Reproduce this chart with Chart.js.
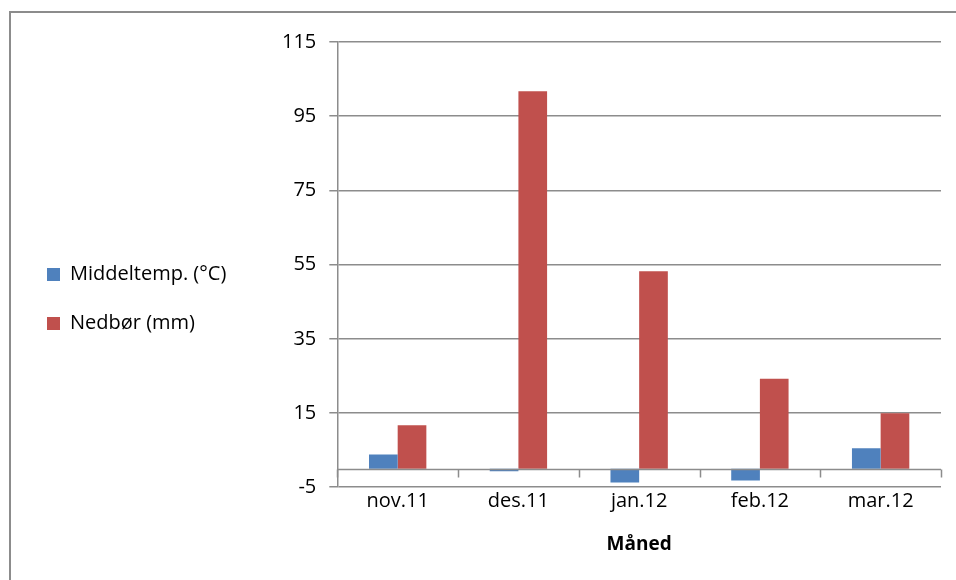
<!DOCTYPE html>
<html>
<head>
<meta charset="utf-8">
<script src="https://cdn.jsdelivr.net/npm/chart.js@4"></script>
<style>
    body { margin: 0; background: #fff; }
    #frame {
        position: absolute; left: 9px; top: 11px;
        width: 1000px; height: 600px;
        border: 2px solid #8c8c8c;
    }
    #wrap { position: absolute; left: 0; top: 0; width: 956px; height: 580px; }
</style>
</head>
<body>
<div id="frame"></div>
<div id="wrap"><canvas id="weatherChart"></canvas></div>
<script>
// Chart data
const months = ['nov.11', 'des.11', 'jan.12', 'feb.12', 'mar.12'];
const meanTemp = [3.8, -0.7, -3.7, -3.2, 5.5];
const precipitation = [11.7, 101.7, 53.2, 24.2, 14.9];
const yTicks = [-5, 15, 35, 55, 75, 95, 115];

const gridColor = '#8c8c8c';
const fontFamily = '"Open Sans", sans-serif';

// Draws the zero line with small tick marks between the categories
const zeroLinePlugin = {
    id: 'zeroLine',
    afterDatasetsDraw(chart) {
        const ctx = chart.ctx;
        const x = chart.scales.x;
        const y = chart.scales.y;
        const y0 = Math.round(y.getPixelForValue(0)) + 0.5;
        ctx.save();
        ctx.strokeStyle = gridColor;
        ctx.lineWidth = 1.5;
        ctx.beginPath();
        ctx.moveTo(x.left, y0);
        ctx.lineTo(x.right, y0);
        const step = (x.right - x.left) / months.length;
        for (let i = 0; i <= months.length; i++) {
            const px = Math.round(x.left + i * step) + 0.5;
            ctx.moveTo(px, y0);
            ctx.lineTo(px, y0 + 8);
        }
        ctx.stroke();
        ctx.restore();
    }
};

document.addEventListener('DOMContentLoaded', function() {
    const ctx = document.getElementById('weatherChart').getContext('2d');

    new Chart(ctx, {
        type: 'bar',
        data: {
            labels: months,
            datasets: [{
                label: 'Middeltemp. (°C)',
                data: meanTemp,
                backgroundColor: '#4f81bd'
            }, {
                label: 'Nedbør (mm)',
                data: precipitation,
                backgroundColor: '#c0504d'
            }]
        },
        options: {
            responsive: true,
            maintainAspectRatio: false,
            animation: false,
            categoryPercentage: 0.475,
            barPercentage: 1,
            layout: {
                padding: { left: 18, right: 15, top: 42, bottom: 24 }
            },
            plugins: {
                tooltip: { enabled: false },
                legend: {
                    position: 'left',
                    labels: {
                        color: '#000',
                        font: { family: fontFamily, size: 20 },
                        boxWidth: 13,
                        boxHeight: 13,
                        padding: 29
                    }
                }
            },
            scales: {
                x: {
                    grid: { display: false, drawTicks: false },
                    border: { display: false },
                    ticks: {
                        color: '#000',
                        font: { family: fontFamily, size: 20 },
                        padding: 2
                    },
                    title: {
                        display: true,
                        text: 'Måned',
                        color: '#000',
                        font: { family: fontFamily, size: 19, weight: 'bold' },
                        padding: { top: 18, bottom: 0 }
                    }
                },
                y: {
                    min: -5,
                    max: 115,
                    afterBuildTicks: function(scale) {
                        scale.ticks = yTicks.map(v => ({ value: v }));
                    },
                    afterFit: function(scale) {
                        scale.width = 101;
                    },
                    grid: {
                        color: gridColor,
                        lineWidth: 1.5,
                        tickLength: 8
                    },
                    border: { color: gridColor, width: 1.5 },
                    ticks: {
                        color: '#000',
                        font: { family: fontFamily, size: 20 },
                        padding: 13
                    }
                }
            }
        },
        plugins: [zeroLinePlugin]
    });
});
</script>
</body>
</html>
